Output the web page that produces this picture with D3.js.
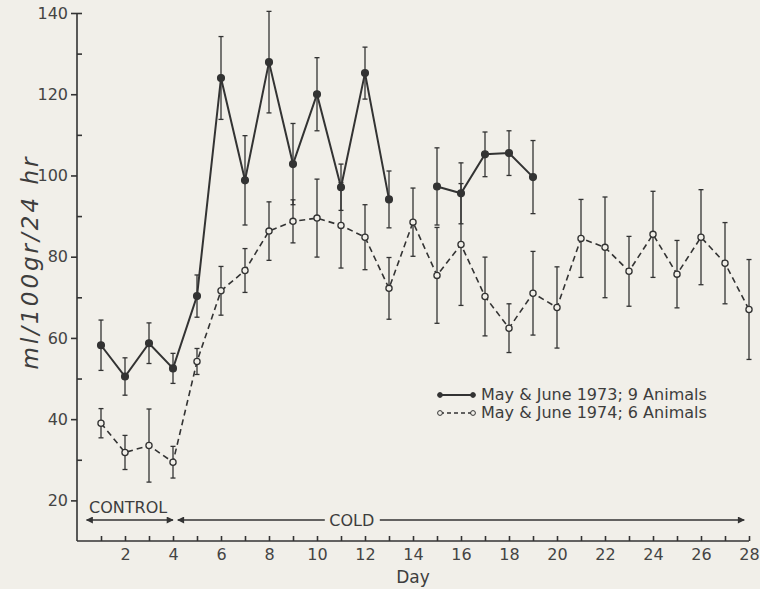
<!DOCTYPE html>
<html lang="en">
  <head>
    <meta charset="UTF-8" />
    <title>Fluid intake, control vs cold</title>
    <script src="https://d3js.org/d3.v7.min.js"></script>
    <style>
      body { margin: 0; background: #f1efe9; }
      svg { display: block; }
      text { font-family: "DejaVu Sans", sans-serif; fill: #3d3d3d; }
      .axis path, .axis line { stroke: #333; stroke-width: 1.6px; }
      .axis text { font-size: 16px; fill: #444; }
    </style>
  </head>
  <body>
    <svg id="chart" width="760" height="589"></svg>
    <script>
      // data (mean and error bar half-length)
      const days73 = d3.range(1, 20);
      const mean73 = [58.2, 50.5, 58.7, 52.5, 70.3, 124, 98.8, 127.9, 102.8, 120, 97.1, 125.2, 94.1, null, 97.3, 95.6, 105.2, 105.5, 99.6];
      const err73 = [6.2, 4.6, 5, 3.7, 5.2, 10.2, 11, 12.5, 10, 9, 5.7, 6.4, 7, null, 9.5, 7.5, 5.5, 5.5, 9];

      const days74 = d3.range(1, 29);
      const mean74 = [39, 31.8, 33.5, 29.4, 54.2, 71.6, 76.6, 86.3, 88.7, 89.5, 87.7, 84.8, 72.2, 88.5, 75.4, 83, 70.2, 62.4, 71, 67.5, 84.5, 82.3, 76.4, 85.5, 75.7, 84.8, 78.4, 67];
      const err74 = [3.6, 4.2, 9, 3.9, 3.2, 6, 5.4, 7.2, 5.3, 9.6, 10.5, 8, 7.6, 8.4, 11.8, 15, 9.7, 6, 10.3, 10, 9.6, 12.4, 8.6, 10.6, 8.3, 11.7, 10, 12.3];

      const yMajor = [20, 40, 60, 80, 100, 120, 140];
      const yMinor = [30, 50, 70, 90, 110, 130];
      const xLabels = d3.range(2, 29, 2);
      const legendLabels = ["May & June 1973; 9 Animals", "May & June 1974; 6 Animals"];

      const svg = d3.select("#chart");
      const x = d3.scaleLinear().domain([0, 28]).range([77, 749]);
      const y = d3.scaleLinear().domain([10, 140]).range([541, 13]);

      // axes
      svg.append("g").attr("class", "axis")
        .attr("transform", "translate(0,541)")
        .call(d3.axisBottom(x).tickValues(d3.range(1, 29)).tickSize(-5).tickFormat(""))
        .call(g => g.select(".domain").attr("d", `M${x(0)},0H${x(28)}`));
      svg.append("g").attr("class", "axis")
        .attr("transform", "translate(0,541)")
        .call(d3.axisBottom(x).tickValues(xLabels).tickSize(0).tickPadding(8))
        .call(g => g.select(".domain").remove());

      svg.append("g").attr("class", "axis")
        .attr("transform", "translate(77,0)")
        .call(d3.axisLeft(y).tickValues(yMajor).tickSize(6).tickPadding(3))
        .call(g => g.select(".domain").attr("d", `M0,${y(140)}V${y(10)}`));
      svg.append("g").attr("class", "axis")
        .attr("transform", "translate(77,0)")
        .call(d3.axisLeft(y).tickValues(yMinor.concat([140])).tickSize(-5).tickFormat(""))
        .call(g => g.select(".domain").remove());

      svg.append("text")
        .attr("transform", "translate(38,262) rotate(-90)")
        .attr("text-anchor", "middle")
        .style("font-size", "23px").style("font-style", "italic")
        .style("letter-spacing", "3px")
        .text("ml/100gr/24 hr");
      svg.append("text")
        .attr("x", x(14)).attr("y", 583)
        .attr("text-anchor", "middle")
        .style("font-size", "17px")
        .text("Day");

      // control / cold arrows
      svg.append("defs").append("marker")
        .attr("id", "arr").attr("viewBox", "0 0 10 10")
        .attr("refX", 9).attr("refY", 5)
        .attr("markerWidth", 9).attr("markerHeight", 7)
        .attr("markerUnits", "userSpaceOnUse")
        .attr("orient", "auto-start-reverse")
        .append("path").attr("d", "M0,0L10,5L0,10z").attr("fill", "#333");

      const arrowY = 520;
      svg.append("line")
        .attr("x1", x(0.4)).attr("x2", x(4)).attr("y1", arrowY).attr("y2", arrowY)
        .attr("stroke", "#333").attr("stroke-width", 1.4)
        .attr("marker-start", "url(#arr)").attr("marker-end", "url(#arr)");
      svg.append("text")
        .attr("x", x(0.5)).attr("y", 513)
        .style("font-size", "16px")
        .text("CONTROL");

      const coldMid = x(11.45);
      svg.append("line")
        .attr("x1", x(4.2)).attr("x2", coldMid - 27).attr("y1", arrowY).attr("y2", arrowY)
        .attr("stroke", "#333").attr("stroke-width", 1.4)
        .attr("marker-start", "url(#arr)");
      svg.append("line")
        .attr("x1", coldMid + 28).attr("x2", x(27.8)).attr("y1", arrowY).attr("y2", arrowY)
        .attr("stroke", "#333").attr("stroke-width", 1.4)
        .attr("marker-end", "url(#arr)");
      svg.append("text")
        .attr("x", coldMid).attr("y", arrowY + 6)
        .attr("text-anchor", "middle")
        .style("font-size", "16px")
        .text("COLD");

      function series(days, mean, err, opts) {
        const pts = days.map((d, i) => ({ day: d, v: mean[i], e: err[i] }));
        const valid = pts.filter(p => p.v != null);
        const g = svg.append("g");
        const line = d3.line().defined(p => p.v != null).x(p => x(p.day)).y(p => y(p.v));
        g.append("path").datum(pts)
          .attr("d", line)
          .attr("fill", "none").attr("stroke", "#333")
          .attr("stroke-width", opts.width)
          .attr("stroke-dasharray", opts.dash);
        const eb = g.selectAll(".eb").data(valid).join("g").attr("stroke", "#333").attr("stroke-width", 1.3);
        eb.append("line")
          .attr("x1", p => x(p.day)).attr("x2", p => x(p.day))
          .attr("y1", p => y(p.v + p.e)).attr("y2", p => y(p.v - p.e));
        [1, -1].forEach(s => {
          eb.append("line")
            .attr("x1", p => x(p.day) - 2.5).attr("x2", p => x(p.day) + 2.5)
            .attr("y1", p => y(p.v + s * p.e)).attr("y2", p => y(p.v + s * p.e));
        });
        g.selectAll("circle").data(valid).join("circle")
          .attr("cx", p => x(p.day)).attr("cy", p => y(p.v))
          .attr("r", opts.r)
          .attr("fill", opts.fill).attr("stroke", "#333").attr("stroke-width", 1.3);
      }

      series(days74, mean74, err74, { width: 1.6, dash: "6,4", r: 3.1, fill: "#f1efe9" });
      series(days73, mean73, err73, { width: 2, dash: null, r: 3.4, fill: "#333" });

      // legend
      const legend = svg.append("g");
      const legendStyles = [
        { dash: null, fill: "#333", width: 2 },
        { dash: "4,3", fill: "#f1efe9", width: 1.4 }
      ];
      legendLabels.forEach((t, i) => {
        const ly = 395 + i * 18;
        legend.append("line")
          .attr("x1", 440).attr("x2", 473).attr("y1", ly).attr("y2", ly)
          .attr("stroke", "#333").attr("stroke-width", legendStyles[i].width)
          .attr("stroke-dasharray", legendStyles[i].dash);
        [440, 473].forEach(cx => {
          legend.append("circle").attr("cx", cx).attr("cy", ly).attr("r", 2.4)
            .attr("fill", legendStyles[i].fill).attr("stroke", "#333").attr("stroke-width", 1);
        });
        legend.append("text")
          .attr("x", 481).attr("y", ly + 5)
          .style("font-size", "16px")
          .text(t);
      });
    </script>
  </body>
</html>
